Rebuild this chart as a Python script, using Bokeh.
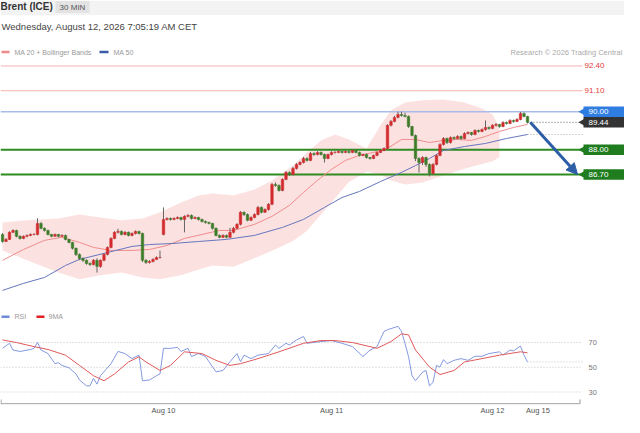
import math
from bokeh.plotting import figure
from bokeh.models import Range1d, FixedTicker, Arrow, NormalHead, ColumnDataSource
from bokeh.layouts import column
from bokeh.embed import file_html
from bokeh.resources import INLINE
from bokeh.core.properties import value

FONT = "Liberation Sans"

# ---------------- data (30-min candles, Brent ICE) ----------------
first_open = 83.55
gap_index = 46          # Aug 10 session open
gap_open = 83.55

closes = [83.18, 83.29, 83.66, 83.76, 83.45, 83.34, 83.45, 83.50, 83.55, 83.55,
          84.13, 83.87, 83.76, 83.55, 83.45, 83.55, 83.45, 83.50, 83.29, 83.13,
          82.82, 82.50, 82.29, 82.19, 82.03, 81.97, 82.19, 81.87, 82.19, 82.50,
          82.87, 83.34, 83.66, 83.71, 83.55, 83.66, 83.50, 83.60, 83.71, 83.60,
          82.19, 82.08, 82.13, 82.24, 82.34, 82.34, 84.34, 84.39, 84.34, 84.39,
          84.44, 84.34, 84.50, 84.55, 84.39, 84.44, 84.34, 84.23, 84.18, 84.13,
          83.87, 83.50, 83.40, 83.50, 83.40, 83.66, 83.87, 84.08, 84.71, 84.60,
          84.29, 84.44, 84.60, 84.97, 84.71, 84.86, 85.13, 86.18, 86.12, 85.86,
          86.44, 86.81, 86.70, 87.02, 87.23, 87.33, 87.54, 87.44, 87.80, 87.75,
          87.86, 87.75, 87.54, 87.75, 87.86, 87.86, 87.91, 87.86, 87.91, 87.86,
          87.96, 87.86, 87.70, 87.75, 87.59, 87.54, 87.70, 87.86, 87.96, 88.07,
          89.28, 89.49, 89.70, 89.85, 89.80, 89.75, 89.22, 88.75, 87.54, 87.33,
          87.59, 87.23, 86.75, 87.23, 87.70, 88.28, 88.59, 88.38, 88.64, 88.59,
          88.70, 88.59, 88.85, 88.91, 88.80, 89.01, 88.96, 89.06, 89.17, 89.12,
          89.28, 89.33, 89.22, 89.43, 89.38, 89.54, 89.49, 89.59, 89.91, 89.75,
          89.44]

highs = [83.62, 83.36, 83.72, 83.82, 83.80, 83.50, 83.50, 83.55, 83.60, 83.62,
         84.40, 84.20, 83.92, 83.80, 83.58, 83.60, 83.58, 83.56, 83.54, 83.32,
         83.16, 82.86, 82.55, 82.34, 82.24, 82.08, 82.25, 82.30, 82.24, 82.56,
         82.92, 83.40, 83.72, 83.85, 83.76, 83.72, 83.70, 83.66, 83.76, 83.74,
         83.65, 82.25, 82.20, 82.30, 82.40, 82.70, 84.97, 84.45, 84.44, 84.45,
         84.50, 84.48, 84.56, 84.62, 84.60, 84.50, 84.48, 84.38, 84.28, 84.22,
         84.16, 83.92, 83.55, 83.56, 83.54, 83.90, 83.95, 84.14, 84.78, 84.76,
         84.65, 84.50, 84.66, 85.05, 85.02, 84.92, 85.20, 86.25, 86.28, 86.18,
         86.50, 86.88, 86.86, 87.10, 87.30, 87.40, 87.62, 87.60, 87.88, 87.86,
         87.92, 87.90, 87.80, 87.80, 87.92, 87.92, 87.96, 87.94, 87.96, 87.94,
         88.02, 88.00, 87.90, 87.80, 87.80, 87.62, 87.75, 87.90, 88.02, 88.12,
         89.34, 89.56, 89.78, 90.00, 90.00, 89.95, 89.80, 89.26, 88.80, 87.60,
         87.66, 87.64, 87.28, 87.30, 87.76, 88.34, 88.66, 88.64, 88.70, 88.70,
         88.76, 88.74, 88.92, 88.96, 88.94, 89.08, 89.06, 89.12, 89.54, 89.22,
         89.34, 89.40, 89.36, 89.50, 89.48, 89.60, 89.58, 89.66, 89.98, 89.96,
         89.78]

lows = [83.12, 83.15, 83.26, 83.62, 83.40, 83.28, 83.30, 83.40, 83.46, 83.50,
        83.50, 83.82, 83.70, 83.50, 83.40, 83.42, 83.40, 83.42, 83.24, 83.08,
        82.76, 82.42, 82.20, 82.10, 81.96, 81.90, 81.92, 81.55, 81.80, 82.14,
        82.45, 82.82, 83.30, 83.60, 83.50, 83.50, 83.45, 83.45, 83.55, 83.55,
        82.10, 82.00, 82.02, 82.08, 82.20, 82.28, 83.50, 84.28, 84.28, 84.30,
        84.35, 84.28, 83.66, 84.45, 84.33, 84.35, 84.28, 84.18, 84.12, 84.08,
        83.80, 83.45, 83.35, 83.36, 83.35, 83.36, 83.60, 83.82, 84.02, 84.52,
        84.24, 84.25, 84.40, 84.55, 84.66, 84.68, 84.80, 85.08, 86.05, 85.80,
        85.82, 86.40, 86.62, 86.65, 86.96, 87.18, 87.28, 87.38, 87.40, 87.68,
        87.70, 87.70, 87.33, 87.50, 87.70, 87.80, 87.82, 87.80, 87.82, 87.80,
        87.82, 87.80, 87.64, 87.66, 87.54, 87.48, 87.50, 87.66, 87.82, 87.92,
        88.02, 89.22, 89.44, 89.65, 89.74, 89.70, 89.15, 88.70, 87.40, 86.80,
        87.20, 87.10, 86.60, 86.70, 87.18, 87.65, 88.22, 88.30, 88.32, 88.52,
        88.54, 88.52, 88.55, 88.80, 88.74, 88.76, 88.90, 88.92, 89.00, 89.05,
        89.08, 89.22, 89.16, 89.18, 89.32, 89.34, 89.42, 89.45, 89.55, 89.70,
        89.38]

ma20_idx = [0, 6, 12, 17, 22, 26, 31, 37, 42, 47, 52, 57, 62, 66, 72, 77, 82, 86, 90, 94,
            98, 102, 106, 110, 114, 118, 122, 126, 130, 134, 138, 142, 146, 150]
ma20_val = [82.19, 82.76, 83.24, 83.40, 83.13, 82.87, 82.71, 82.71, 82.76, 82.97,
            83.34, 83.55, 83.76, 83.76, 84.08, 84.50, 85.08, 85.76, 86.39, 86.97,
            87.44, 87.70, 87.86, 88.07, 88.54, 88.54, 88.38, 88.49, 88.54, 88.49,
            88.70, 88.96, 89.17, 89.33]

ma50_idx = [0, 6, 12, 18, 22, 30, 37, 42, 49, 56, 64, 72, 80, 86, 92, 97, 102, 108, 114,
            118, 122, 126, 132, 138, 144, 150]
ma50_val = [80.61, 80.98, 81.29, 81.92, 82.24, 82.60, 82.92, 83.02, 83.08, 83.18,
            83.29, 83.50, 83.92, 84.34, 84.97, 85.49, 85.81, 86.33, 86.81, 87.17,
            87.54, 87.96, 88.17, 88.33, 88.59, 88.80]

bb_idx = [0, 7, 16, 22, 28, 34, 40, 45, 51, 56, 60, 66, 72, 77, 83, 87, 91, 95, 99, 104,
          108, 111, 115, 120, 126, 132, 137, 140, 142]
bb_upper = [84.18, 84.29, 84.39, 84.60, 84.44, 84.29, 84.39, 84.71, 85.23, 85.60,
            85.70, 85.60, 85.91, 86.39, 87.17, 87.86, 88.49, 88.80, 88.54, 88.07,
            89.28, 90.07, 90.48, 90.60, 90.64, 90.48, 90.17, 89.85, 89.17]
bb_lower = [82.71, 82.19, 81.55, 81.19, 81.40, 81.55, 81.29, 81.19, 81.40, 81.71,
            81.92, 81.85, 82.30, 82.70, 83.20, 83.75, 84.60, 85.45, 86.30, 86.85,
            86.70, 86.39, 86.18, 86.28, 86.65, 87.00, 87.25, 87.40, 87.60]

rsi_idx = [0, 2, 3, 5, 8, 9, 10, 11, 13, 15, 16, 17, 19, 21, 22, 24, 25, 26, 27, 28,
           31, 33, 35, 37, 39, 40, 42, 44, 45, 46, 48, 50, 51, 53, 54, 56, 58, 59, 61, 63,
           65, 67, 68, 69, 71, 73, 76, 78, 79, 81, 82, 84, 86, 87, 91, 94, 97, 100, 101, 103,
           105, 107, 109, 110, 113, 114, 115, 116, 117, 118, 120, 121, 122, 123, 124, 125,
           126, 127, 129, 131, 133, 135, 137, 139, 142, 143, 145, 146, 148, 149, 150]
rsi_val = [65.3, 69.4, 63.9, 62.8, 64.4, 65.3, 70.2, 63.9, 61.1, 52.9, 53.7, 51.5, 49.6,
           44.6, 39.7, 35.0, 35.0, 41.0, 36.4, 43.2, 52.9, 62.8, 61.1, 57.0, 59.8, 39.1,
           39.7, 43.2, 44.6, 65.3, 65.3, 66.1, 62.8, 65.3, 58.7, 61.1, 58.7, 54.5, 46.3,
           47.4, 54.5, 61.1, 54.5, 59.8, 57.0, 59.8, 61.1, 68.0, 65.3, 69.4, 68.0, 72.1,
           74.9, 69.4, 70.8, 71.6, 69.4, 66.7, 63.9, 58.7, 63.9, 66.7, 79.0, 80.4, 83.1,
           79.0, 69.4, 58.7, 43.2, 39.1, 46.0, 47.4, 35.0, 37.8, 51.5, 50.2, 56.2, 52.9,
           55.6, 57.0, 55.6, 58.9, 58.9, 61.1, 62.5, 59.8, 63.9, 63.3, 67.2, 59.8, 54.3]

ma9_idx = [0, 4, 9, 13, 18, 22, 26, 29, 32, 36, 39, 41, 45, 48, 52, 57, 61, 65, 68, 73,
           79, 86, 91, 95, 100, 105, 107, 111, 114, 116, 118, 122, 125, 129, 132, 137,
           142, 148, 150]
ma9_val = [72.1, 70.0, 66.7, 64.4, 59.8, 51.5, 43.2, 39.1, 44.6, 54.3, 58.4, 54.3, 47.4,
           51.5, 62.5, 61.1, 55.6, 51.5, 52.9, 57.0, 62.5, 69.4, 71.6, 71.6, 70.0, 66.7,
           65.3, 70.8, 77.0, 76.2, 63.9, 50.2, 44.1, 47.4, 54.3, 57.0, 59.8, 62.5, 61.7]

resistance_levels = [92.40, 91.10]
resistance_labels = ["92.40", "91.10"]
pivot_level = 90.00
support_levels = [88.00, 86.70]
last_price = closes[-1]

forecast_idx = [150.8, 164.3]
forecast_px = [89.44, 86.70]

rsi_levels = [70, 50, 30]
date_ticks = [46, 94, 140, 153]
date_labels = ["Aug 10", "Aug 11", "Aug 12", "Aug 15"]

# ---------------- styles ----------------
UP = "#d22b2d"
DOWN = "#3c7d28"
W = 624
X_END = 165.7   # right end of level lines (before the tags)

# ---------------- price panel (with header) ----------------
pa = figure(width=W, height=300, x_range=Range1d(-0.571, 177.714),
            y_range=Range1d(80.08, 95.84), output_backend="svg",
            toolbar_location=None, min_border=0, x_axis_type=None,
            y_axis_type=None, outline_line_color=None)
pa.extra_x_ranges = {"px": Range1d(8, 632)}
pa.extra_y_ranges = {"py": Range1d(308, 8)}
pa.background_fill_color = "white"
pa.border_fill_color = "white"

def T(p, x, y, txt, size, color, align="left", bold=False, yr="py"):
    kw = dict(x_range_name="px")
    if yr:
        kw["y_range_name"] = yr
    p.text(x=[x], y=[y], text=[txt], text_font=value(FONT), text_font_size=size,
           text_color=color, text_align=align, text_baseline="middle",
           text_font_style="bold" if bold else "normal", **kw)

# header band
pa.quad(left=[8], right=[632], top=[8], bottom=[22.5], fill_color="#f3f3f3",
        line_color=None, x_range_name="px", y_range_name="py")
pa.quad(left=[63], right=[97], top=[8.5], bottom=[20.5], fill_color="#e3e3e3",
        line_color=None, x_range_name="px", y_range_name="py")
T(pa, 8, 14, "Brent (ICE)", "10px", "#333333", bold=True)
T(pa, 80, 14.5, "30 MIN", "8px", "#555555", align="center")
T(pa, 9, 33.5, "Wednesday, August 12, 2026 7:05:19 AM CET", "9.5px", "#444444")

# legend
pa.quad(left=[9, 107], right=[17, 116], top=[58.3, 58.3], bottom=[60.7, 60.7],
        fill_color=["#f08a8a", "#3b5ca8"], line_color=None,
        x_range_name="px", y_range_name="py")
T(pa, 22, 59.5, "MA 20 + Bollinger Bands", "7px", "#999999")
T(pa, 121, 59.5, "MA 50", "7px", "#999999")
T(pa, 630, 59.5, "Research \u00a9 2026 Trading Central", "7.5px", "#aaaaaa", align="right")

# Bollinger band
pa.varea(x=bb_idx, y1=bb_lower, y2=bb_upper, fill_color="#fbdcdc", fill_alpha=0.85)

# level lines
pa.segment(x0=-0.571, x1=X_END, y0=resistance_levels, y1=resistance_levels,
           line_color="#f5b0b0", line_width=1)
pa.segment(x0=-0.571, x1=X_END, y0=pivot_level, y1=pivot_level,
           line_color="#a9bbe8", line_width=1.5)
pa.segment(x0=-0.571, x1=X_END, y0=support_levels, y1=support_levels,
           line_color="#2e8b22", line_width=2)
pa.segment(x0=len(closes) - 1, x1=X_END, y0=last_price, y1=last_price,
           line_color="#666666", line_width=1, line_dash="1 2")
pa.segment(x0=ma50_idx[-1], x1=X_END, y0=ma50_val[-1], y1=ma50_val[-1],
           line_color="#aaaaaa", line_width=1, line_dash="1 2")

# moving averages
pa.line(ma20_idx, ma20_val, line_color="#f08c8c", line_width=1)
pa.line(ma50_idx, ma50_val, line_color="#6577bd", line_width=1)

# candles
idx = list(range(len(closes)))
opens = [first_open] + closes[:-1]
opens[gap_index] = gap_open
colors = [UP if c >= o else DOWN for o, c in zip(opens, closes)]
src = ColumnDataSource(dict(
    x=idx, h=highs, l=lows,
    top=[max(o, c) for o, c in zip(opens, closes)],
    bot=[min(o, c) for o, c in zip(opens, closes)],
    col=colors))
pa.segment(x0="x", x1="x", y0="h", y1="l", line_color="#666666", line_width=1, source=src)
pa.vbar(x="x", width=0.72, top="top", bottom="bot", fill_color="col",
        line_color="col", line_width=0.5, source=src)

# forecast arrow
AC = "#2d5da6"
pa.add_layout(Arrow(end=NormalHead(size=11, fill_color=AC, line_color=AC),
                    x_start=forecast_idx[0], y_start=forecast_px[0],
                    x_end=forecast_idx[1], y_end=forecast_px[1],
                    line_color=AC, line_width=3))

# level tags
tag_levels = [pivot_level, last_price] + support_levels
tag_texts = ["%.2f" % v for v in tag_levels]
tag_colors = ["#2f7de1", "#333333", "#1f7d1f", "#1f7d1f"]
pa.rect(x=611.5, y=tag_levels, width=41, height=10.5, width_units="screen",
        height_units="screen", fill_color=tag_colors, line_color=None, x_range_name="px")
pa.scatter(x=592, y=tag_levels, marker="triangle", size=10.5, angle=math.pi / 2,
           fill_color=tag_colors, line_color=None, x_range_name="px")
pa.text(x=596, y=tag_levels, text=tag_texts, text_font=value(FONT), text_font_size="8px",
        text_color="white", text_baseline="middle", x_range_name="px")
pa.text(x=592, y=resistance_levels, text=resistance_labels, text_font=value(FONT),
        text_font_size="8px", text_color="#e23b3b", text_baseline="middle",
        x_range_name="px")

# ---------------- RSI panel ----------------
pb = figure(width=W, height=117, x_range=pa.x_range, y_range=Range1d(19.9, 104.0),
            output_backend="svg", toolbar_location=None, min_border=0,
            y_axis_type=None, outline_line_color=None)
pb.extra_x_ranges = {"px": Range1d(8, 632)}
pb.background_fill_color = "white"
pb.border_fill_color = "white"
for g in pb.grid:
    g.visible = False
ax = pb.xaxis[0]
ax.ticker = FixedTicker(ticks=date_ticks)
ax.major_label_overrides = {t: s for t, s in zip(date_ticks, date_labels)}
ax.axis_line_color = None
ax.major_tick_line_color = None
ax.minor_tick_line_color = None
ax.major_tick_out = 0
ax.major_tick_in = 0
ax.major_label_standoff = 1
ax.major_label_text_font = FONT
ax.major_label_text_font_size = "7.5px"
ax.major_label_text_color = "#555555"

# legend
pb.quad(left=[9, 44], right=[17, 52], top=[91.9, 91.9], bottom=[89.9, 89.9],
        fill_color=["#6f8ad8", "#e02020"], line_color=None, x_range_name="px")
T(pb, 22, 90.9, "RSI", "7px", "#999999", yr=None)
T(pb, 56, 90.9, "9MA", "7px", "#999999", yr=None)

pb.segment(x0=-0.571, x1=X_END, y0=rsi_levels, y1=rsi_levels, line_color="#c4c4c4",
           line_width=1, line_dash="1 2")
pb.segment(x0=rsi_idx[-1], x1=X_END, y0=rsi_val[-1], y1=rsi_val[-1],
           line_color="#c4c4c4", line_width=1, line_dash="1 2")
pb.text(x=596, y=rsi_levels, text=[str(v) for v in rsi_levels], text_font=value(FONT),
        text_font_size="7.5px", text_color="#777777", text_baseline="middle",
        x_range_name="px")
pb.line(rsi_idx, rsi_val, line_color="#8499e0", line_width=1)
pb.line(ma9_idx, ma9_val, line_color="#e05a5a", line_width=1)

# bottom axis line with end ticks
pb.segment(x0=[8.5, 8.5, 587.5], x1=[587.5, 8.5, 587.5], y0=[20.5, 20.5, 20.5],
           y1=[20.5, 24.0, 24.0], line_color="#999999", line_width=1, x_range_name="px")

open("out.html", "w").write(file_html(column(pa, pb), INLINE, title="Brent (ICE)"))
